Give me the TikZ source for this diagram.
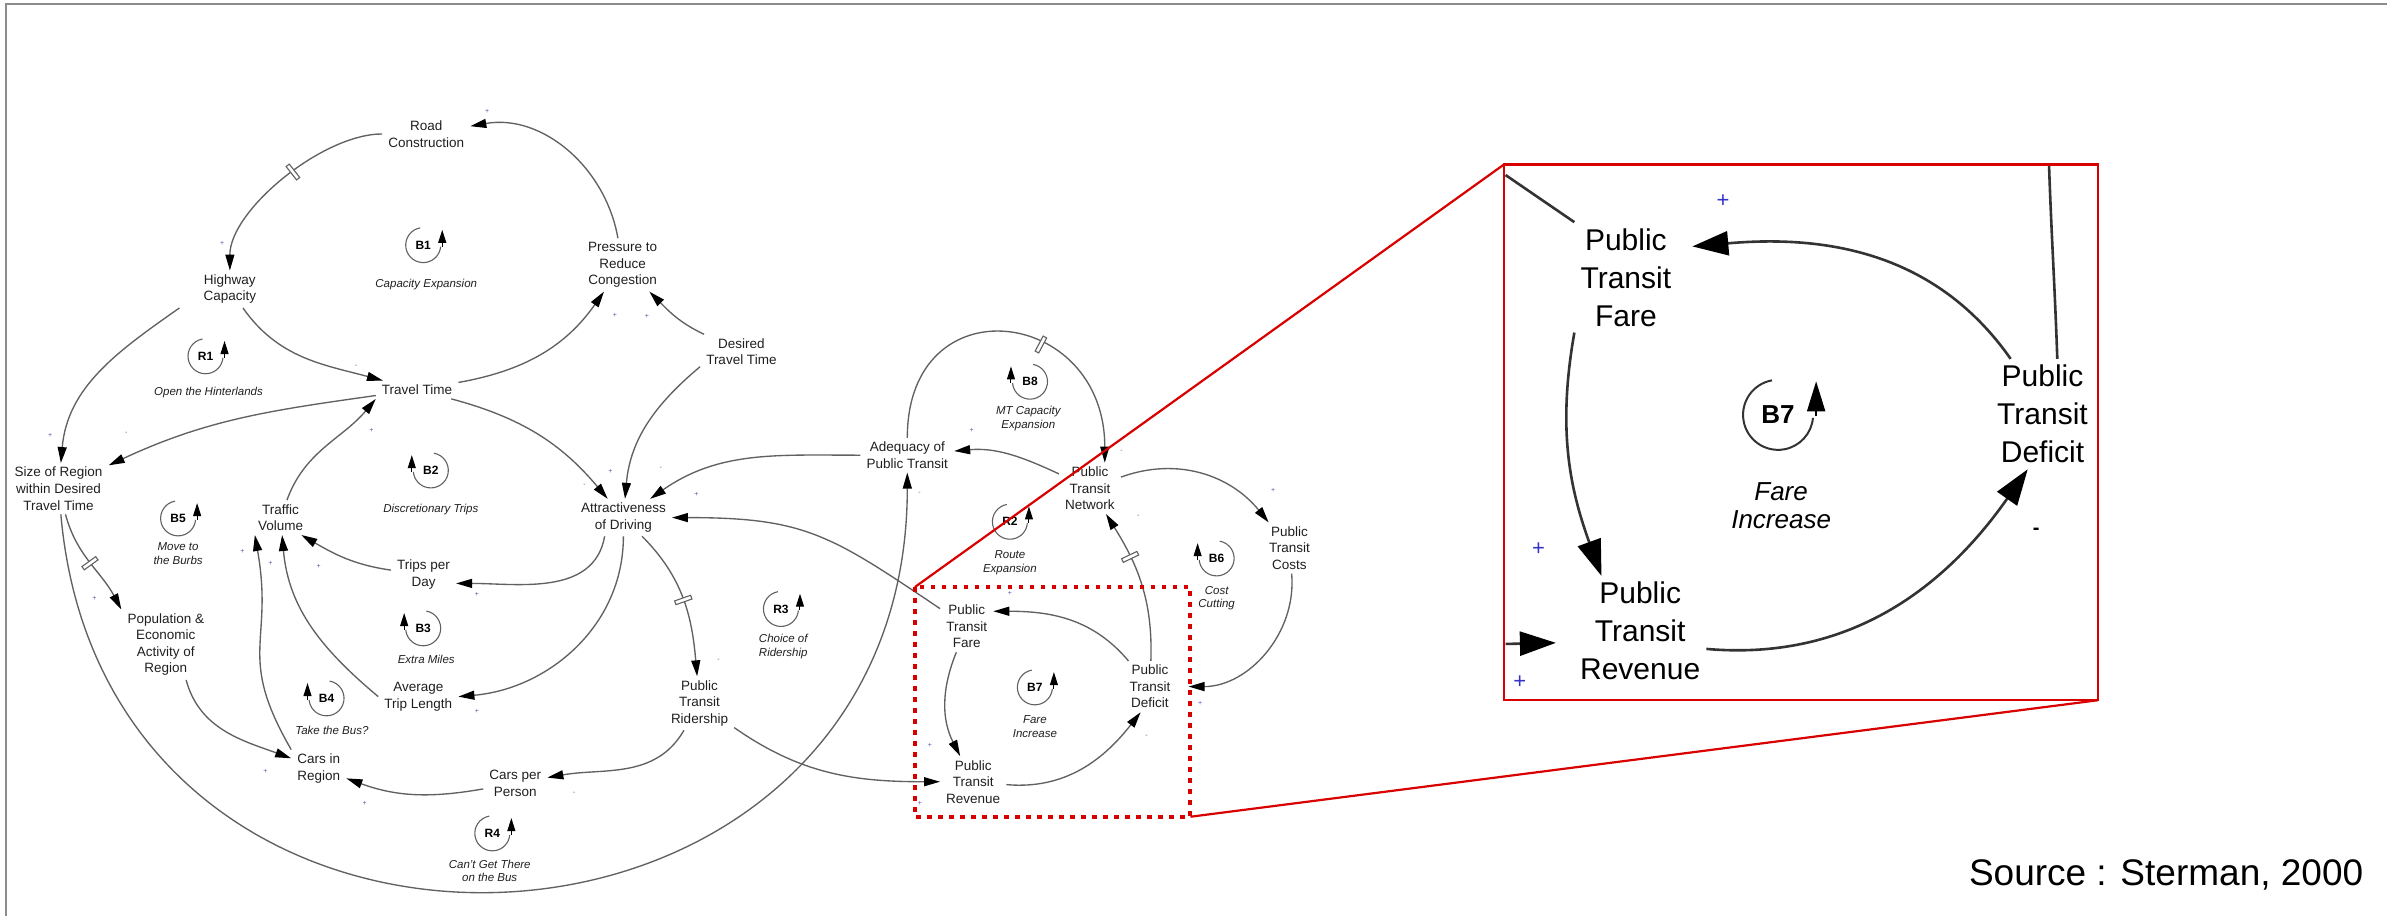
\documentclass[tikz,border=0pt]{standalone}
\usepackage{fontspec}
\setmainfont{Liberation Sans}
\usetikzlibrary{arrows.meta}
\newcommand{\linecol}{black!62}
\newcommand{\redcol}{red!85!black}
\newcommand{\signcol}{blue!35!gray}
\newcommand{\loopsize}{11.5}
\tikzset{
  var/.style={align=center, font=\fontsize{13.5}{16.5}\selectfont, text=black!88, inner xsep=6pt, inner ysep=4pt},
  causal/.style={draw=\linecol, line width=1.35pt, -{Triangle[length=16pt,width=9pt,color=black]}},
  sgn/.style={font=\fontsize{7}{8}\selectfont, text=\signcol, inner sep=0pt},
  delaymark/.style={draw=\linecol, fill=white, line width=1.1pt, minimum width=4pt, minimum height=17pt, inner sep=0pt},
  loopname/.style={font=\bfseries\fontsize{12}{14}\selectfont, inner sep=0pt},
  loopline/.style={draw=\linecol, line width=1.1pt},
  looptip/.style={draw=black, line width=1pt, -{Triangle[length=13pt,width=8pt]}},
  looptext/.style={align=center, font=\itshape\fontsize{11.5}{13.5}\selectfont, text=black!88},
  pvar/.style={align=center, font=\fontsize{30}{38}\selectfont, inner sep=6pt},
  plink/.style={draw=black!80, line width=2.6pt, -{Triangle[length=36pt,width=24pt,color=black]}},
  pline/.style={draw=black!80, line width=2.6pt},
  ploopline/.style={draw=black!80, line width=2pt},
  plooptip/.style={draw=black, line width=2pt, -{Triangle[length=30pt,width=18pt]}},
  psgn/.style={font=\fontsize{22}{24}\selectfont, text=blue!60!gray, inner sep=0pt},
  redbox/.style={draw=\redcol, line width=4pt, dash pattern=on 4.5pt off 6.5pt},
  redline/.style={draw=\redcol, line width=2.2pt},
  outframe/.style={draw=black!45, line width=2.5pt},
}
\newcommand{\markloopR}[3]{%
  \node[loopname] (#1) at (#2) {#3};
  \draw[loopline] (#1.center) ++(100:\loopsize) arc[start angle=100,end angle=355,radius=\loopsize];
  \draw[looptip] (#1.center) ++(\loopsize+1,-1) -- ++(0,11);
}
\newcommand{\markloopL}[3]{%
  \node[loopname] (#1) at (#2) {#3};
  \draw[loopline] (#1.center) ++(80:\loopsize) arc[start angle=80,end angle=-175,radius=\loopsize];
  \draw[looptip] (#1.center) ++(-\loopsize-1,-1) -- ++(0,11);
}

\begin{document}
\begin{tikzpicture}[x=1.5223pt,y=1.5223pt]
\useasboundingbox (0,0) rectangle (1568,-602);
\draw[outframe] (3.9,-602) -- (3.9,-2.6) -- (1568,-2.6);
%variables
\node[var] (rc) at (280,-88) {Road\\Construction};
\node[var] (hc) at (151,-190) {Highway\\Capacity};
\node[var] (pr) at (409,-174) {Pressure to\\Reduce\\Congestion};
\node[var] (dt) at (487,-231) {Desired\\Travel Time};
\node[var] (tt) at (274,-256) {Travel Time};
\node[var] (sr) at (38.5,-321) {Size of Region\\within Desired\\Travel Time};
\node[var] (tv) at (184.3,-340) {Traffic\\Volume};
\node[var] (ad) at (409.5,-340) {Attractiveness\\of Driving};
\node[var] (td) at (278.2,-377.5) {Trips per\\Day};
\node[var] (at) at (274.8,-457.6) {Average\\Trip Length};
\node[var] (pe) at (108.9,-423.5) {Population \&\\Economic\\Activity of\\Region};
\node[var] (cr) at (209.4,-504.7) {Cars in\\Region};
\node[var] (cp) at (338.5,-514.5) {Cars per\\Person};
\node[var] (rd) at (459.5,-462) {Public\\Transit\\Ridership};
\node[var] (aq) at (596,-299) {Adequacy of\\Public Transit};
\node[var] (nw) at (716,-320.8) {Public\\Transit\\Network};
\node[var] (co) at (847,-360) {Public\\Transit\\Costs};
\node[var] (fa) at (635,-411.6) {Public\\Transit\\Fare};
\node[var] (de) at (755.4,-451) {Public\\Transit\\Deficit};
\node[var] (re) at (639.3,-513.5) {Public\\Transit\\Revenue};
%loops
\markloopR{b1}{278,-161}{B1}
\node[looptext] (b1n) at (280,-187) {Capacity Expansion};
\markloopR{r1}{135,-234}{R1}
\node[looptext] (r1n) at (137,-258) {Open the Hinterlands};
\markloopL{b2}{283,-309}{B2}
\node[looptext] (b2n) at (283,-334.6) {Discretionary Trips};
\markloopR{b5}{117,-340.5}{B5}
\node[looptext] (b5n) at (117,-363.5) {Move to\\the Burbs};
\markloopL{b3}{278,-412.7}{B3}
\node[looptext] (b3n) at (280,-433) {Extra Miles};
\markloopL{b4}{214.5,-458.7}{B4}
\node[looptext] (b4n) at (218,-479.5) {Take the Bus?};
\markloopR{r4}{323.4,-547.4}{R4}
\node[looptext] (r4n) at (321.7,-572) {Can't Get There\\on the Bus};
\markloopR{r3}{513,-400}{R3}
\node[looptext] (r3n) at (514.5,-424.7) {Choice of\\Ridership};
\markloopL{b8}{676.6,-250.7}{B8}
\node[looptext] (b8n) at (675.5,-275) {MT Capacity\\Expansion};
\markloopR{r2}{663.4,-342.7}{R2}
\node[looptext] (r2n) at (663.4,-369.5) {Route\\Expansion};
\markloopL{b6}{799.2,-366.8}{B6}
\node[looptext] (b6n) at (799.2,-393) {Cost\\Cutting};
\markloopR{b7}{679.8,-451.5}{B7}
\node[looptext] (b7n) at (679.8,-477.4) {Fare\\Increase};
%links
\draw[causal] (pr) to[out=100,in=10] (rc);
\draw[causal] (rc) to[out=180,in=90,looseness=0.75] node[delaymark,sloped,pos=.45] (d1) {} (hc);
\draw[causal] (hc) to[out=-55,in=165] (tt);
\draw[causal] (tt) to[out=10,in=-125] (pr);
\draw[causal] (dt) to[out=155,in=-45] (pr);
\draw[causal] (dt.200) to[out=-140,in=85] (ad);
\draw[causal] (tt) to[out=-15,in=130] (ad);
\draw[causal] (aq) to[out=180,in=35] (ad);
\draw[causal] (fa) to[out=146,in=0,looseness=1.2] (ad);
\draw[causal] (ad) to[out=-45,in=95] node[delaymark,sloped,pos=.5] (d3) {} (rd);
\draw[causal] (ad.225) to[out=-100,in=0] (td.-15);
\draw[causal] (ad) to[out=-90,in=5] (at.east);
\draw[causal] (td) to[out=172,in=-30] (tv.-40);
\draw[causal] (at.west) to[out=140,in=-85] (tv);
\draw[causal] (cr.north west) to[out=120,in=-80,looseness=1.3] ([xshift=3pt]tv.south west);
\draw[causal] (tv) to[out=70,in=-130] (tt.south west);
\draw[causal] ([xshift=-18pt]hc.south west) to[out=215,in=85] (sr);
\draw[causal] (tt) to[out=188,in=25] (sr);
\draw[causal] (sr) to[out=-75,in=118] node[delaymark,sloped,pos=.5] (d2) {} (pe.north west);
\draw[causal] (pe.-60) to[out=-75,in=160] (cr);
\draw[causal] (cp) to[out=190,in=-20] (cr);
\draw[causal] (rd) to[out=-120,in=10] (cp);
\draw[causal] (rd) to[out=-35,in=180] (re);
\draw[causal] (sr) to[out=-85,in=-90,looseness=1.6] (aq);
\draw[causal] (nw) to[out=155,in=5] (aq);
\draw[causal] (aq) to[out=90,in=90,looseness=2] node[delaymark,sloped,pos=.62] (d4) {} (nw.60);
\draw[causal] (nw) to[out=20,in=129] (co);
\draw[causal] (co) to[out=-85,in=0] ([xshift=12pt]de.east);
\draw[causal] (de) to[out=88,in=-58] node[delaymark,sloped,pos=.7] (d5) {} (nw);
\draw[causal] (de) to[out=130,in=0] (fa.30);
\draw[causal] (fa) to[out=-112,in=117] (re);
\draw[causal] (re) to[out=-5,in=-128] (de.-110);
%signs
\node[sgn] (s1) at (320,-73) {+};
\node[sgn] (s2) at (146,-160) {+};
\node[sgn] (s3) at (234,-241) {-};
\node[sgn] (s4) at (404,-207) {+};
\node[sgn] (s5) at (425,-208) {+};
\node[sgn] (s6) at (33,-286) {+};
\node[sgn] (s7) at (83,-285) {-};
\node[sgn] (s8) at (244,-283) {+};
\node[sgn] (s9) at (384,-319) {-};
\node[sgn] (s10) at (401,-310) {+};
\node[sgn] (s11) at (434,-308) {-};
\node[sgn] (s12) at (457.5,-324.5) {+};
\node[sgn] (s13) at (313.3,-390.8) {+};
\node[sgn] (s14) at (209.4,-372.2) {+};
\node[sgn] (s15) at (177.6,-370) {+};
\node[sgn] (s16) at (159.2,-362.4) {+};
\node[sgn] (s17) at (313.3,-467.5) {+};
\node[sgn] (s18) at (62,-393) {+};
\node[sgn] (s19) at (174.3,-506.9) {+};
\node[sgn] (s20) at (239.6,-527.7) {+};
\node[sgn] (s21) at (377,-521) {-};
\node[sgn] (s22) at (472,-433.5) {-};
\node[sgn] (s23) at (604.3,-527.7) {+};
\node[sgn] (s24) at (604,-324) {-};
\node[sgn] (s25) at (638.3,-282.5) {+};
\node[sgn] (s26) at (736.8,-296.7) {-};
\node[sgn] (s27) at (836.4,-321.9) {+};
\node[sgn] (s28) at (788.3,-462) {+};
\node[sgn] (s29) at (747.7,-339.4) {-};
\node[sgn] (s30) at (663.4,-389.8) {+};
\node[sgn] (s31) at (610.9,-489.4) {+};
\node[sgn] (s32) at (753.2,-484) {-};
%zoom
\node[pvar] (pfa) at (1068,-182.2) {Public\\Transit\\Fare};
\node[pvar] (pre) at (1077.4,-414.6) {Public\\Transit\\Revenue};
\node[pvar] (pde) at (1341.7,-272) {Public\\Transit\\Deficit};
\coordinate (pin) at (989,-423);
\coordinate (ptop) at (1346,-109);
\coordinate (pcorner) at (989,-115);
\node[font=\bfseries\fontsize{26}{28}\selectfont, inner sep=0pt] (pb7) at (1168,-272.5) {B7};
\draw[ploopline] (pb7.center) ++(100:23) arc[start angle=100,end angle=355,radius=23];
\draw[plooptip] (pb7.center) ++(25,-1) -- ++(0,23);
\node[align=center, font=\itshape\fontsize{26}{28}\selectfont] (pb7n) at (1170,-332.5) {Fare\\Increase};
\draw[plink] (pde.120) to[out=125,in=5] ([xshift=15pt]pfa.31);
\draw[plink] (pfa.south west) to[out=-100,in=110] (pre.125);
\draw[plink] (pre.-15) to[out=-5,in=-125] (pde.-105);
\draw[plink] (pin) -- ([xshift=-18pt]pre.190);
\draw[pline] (pde.75) to[out=92,in=-88] (ptop);
\draw[pline] (pfa.north west) -- (pcorner);
\node[psgn] (p1) at (1131.9,-132) {+};
\node[psgn] (p2) at (1010.6,-360.7) {+};
\node[psgn] (p3) at (998.4,-448) {+};
\node[font=\bfseries\fontsize{20}{22}\selectfont, inner sep=0pt] (p4) at (1337.6,-348.7) {-};
%red
\coordinate (zoomA) at (601,-385.6);
\coordinate (zoomB) at (782,-536.5);
\coordinate (panelA) at (988,-108);
\coordinate (panelB) at (1378,-460);
\draw[redbox] (zoomA) rectangle (zoomB);
\draw[redline] (panelA) rectangle (panelB);
\draw[redline] (zoomA) -- (panelA);
\draw[redline] (zoomB) -- (panelB);
\node[anchor=base east, inner sep=0pt, font=\fontsize{37}{40}\selectfont] (src) at (1552.5,-581.4) {Source : Sterman, 2000};
\end{tikzpicture}
\end{document}
